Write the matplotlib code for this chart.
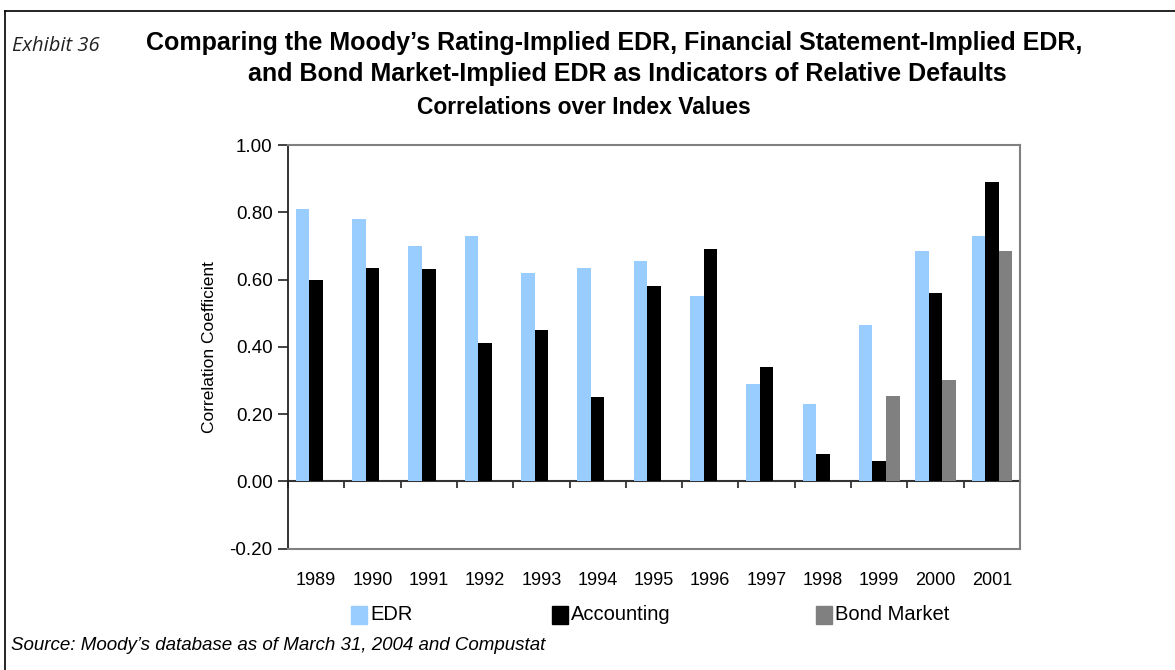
import numpy as np
import matplotlib.pyplot as plt
from matplotlib.patches import Rectangle
from matplotlib.lines import Line2D

years = ["1989", "1990", "1991", "1992", "1993", "1994", "1995",
         "1996", "1997", "1998", "1999", "2000", "2001"]
edr = [0.81, 0.78, 0.70, 0.73, 0.62, 0.635, 0.655, 0.55, 0.29, 0.23, 0.465, 0.685, 0.73]
accounting = [0.60, 0.635, 0.63, 0.41, 0.45, 0.25, 0.58, 0.69, 0.34, 0.08, 0.06, 0.56, 0.89]
bond = [np.nan] * 10 + [0.255, 0.30, 0.685]
series_names = ["EDR", "Accounting", "Bond Market"]
colors = ["#99CCFF", "#000000", "#808080"]

sans = ["Liberation Sans", "DejaVu Sans"]

fig = plt.figure(figsize=(11.75, 6.7), dpi=100)
ax = fig.add_axes([288/1175, 1-548.6/670, 732/1175, 403.6/670])

x = np.arange(len(years))
w = 0.24
for i, vals in enumerate([edr, accounting, bond]):
    ax.bar(x + (i-1)*w, vals, width=w, color=colors[i], linewidth=0)

ax.set_xlim(-0.5, len(years)-0.5)
ax.set_ylim(-0.2, 1.0)
yt = np.arange(-0.2, 1.01, 0.2)
ax.set_yticks(yt)
ax.set_yticklabels(["%.2f" % v for v in yt], family=sans, fontsize=13.5)
ax.tick_params(axis="y", direction="out", length=7, width=1.2, color="#222222", pad=4)
ax.set_xticks(x)
ax.set_xticklabels(years, family=sans, fontsize=13)
ax.tick_params(axis="x", length=0, pad=17)

for s in ["top", "right", "bottom"]:
    ax.spines[s].set_color("#808080")
    ax.spines[s].set_linewidth(1.5)
ax.spines["left"].set_color("#222222")
ax.spines["left"].set_linewidth(1.3)

# axis line at zero with category boundary ticks
sec = ax.secondary_xaxis(0, transform=ax.transData)
sec.set_xticks(np.arange(-0.5, len(years), 1.0))
sec.set_xticklabels([])
sec.tick_params(direction="out", length=5, width=1.2, color="#222222")
sec.spines["bottom"].set_color("#333333")
sec.spines["bottom"].set_linewidth(1.5)

ax.set_ylabel("Correlation Coefficient", family=sans, fontsize=12.5, labelpad=9)

# titles
fig.text(614/1175, 1-50/670, "Comparing the Moody\u2019s Rating-Implied EDR, Financial Statement-Implied EDR,",
         ha="center", va="baseline", family=sans, fontweight="bold", fontsize=18)
fig.text(627/1175, 1-81/670, "and Bond Market-Implied EDR as Indicators of Relative Defaults",
         ha="center", va="baseline", family=sans, fontweight="bold", fontsize=18)
fig.text(584/1175, 1-114/670, "Correlations over Index Values",
         ha="center", va="baseline", family=sans, fontweight="bold", fontsize=16.5)
fig.text(12/1175, 1-51/670, "Exhibit 36", ha="left", va="baseline",
         family=["Open Sans", "DejaVu Sans"], style="italic", fontsize=14.5, color="#222222")
fig.text(11/1175, 1-645/670, "Source: Moody\u2019s database as of March 31, 2004 and Compustat",
         ha="left", va="center", family=sans, style="italic", fontsize=13.5)

# legend
leg_x = [351, 552, 816]
for name, c, lx in zip(series_names, colors, leg_x):
    fig.add_artist(Rectangle((lx/1175, 1-624/670), 16/1175, 18/670, color=c,
                             transform=fig.transFigure))
    fig.text((lx+19)/1175, 1-615/670, name, ha="left", va="center",
             family=sans, fontsize=14.5)

# outer frame
fig.add_artist(Line2D([5/1175, 5/1175], [0, 1-11/670], color="black", lw=1.2,
                      transform=fig.transFigure))
fig.add_artist(Line2D([5/1175, 1], [1-11/670, 1-11/670], color="black", lw=1.2,
                      transform=fig.transFigure))

fig.savefig("out.png", dpi=100)
